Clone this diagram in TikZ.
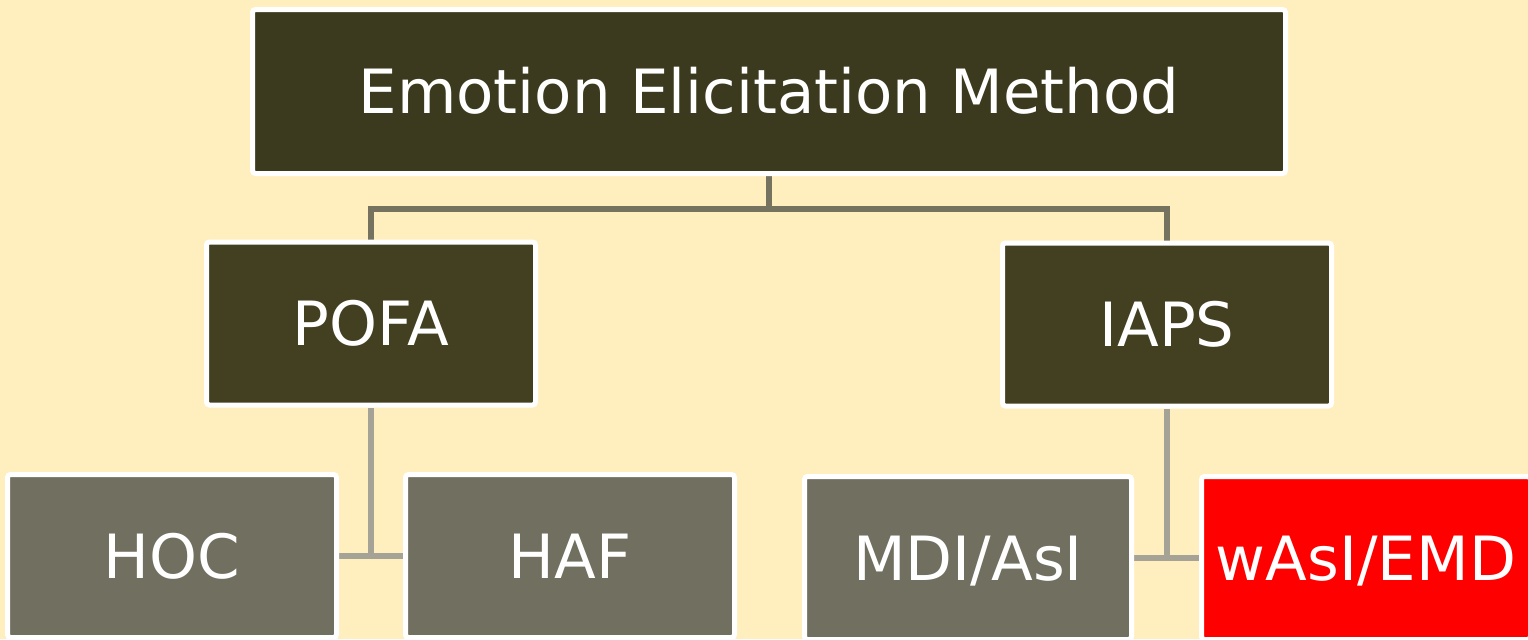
\documentclass[tikz,border=0pt]{standalone}
\usepackage{fontspec}
\setmainfont{DejaVu Sans}
\definecolor{cream}{HTML}{FFEEBE}
\definecolor{rootfill}{HTML}{3B3A1E}
\definecolor{midfill}{HTML}{424020}
\definecolor{leaffill}{HTML}{716F5F}
\definecolor{hotfill}{HTML}{FF0000}
\definecolor{upperline}{HTML}{75735F}
\definecolor{lowerline}{HTML}{A5A395}
\pgfdeclarelayer{bg}
\pgfdeclarelayer{lines}
\pgfsetlayers{bg,lines,main}
\tikzset{
  box/.style={draw=white, line width=2.5pt, rounded corners=1.5pt, inner sep=0pt,
    text=white, font=\fontsize{30.5pt}{36pt}\selectfont,
    text height=22.2pt, text depth=0pt, minimum width=164.5pt, minimum height=81.5pt},
  rootbox/.style={box, fill=rootfill, minimum width=516.5pt, minimum height=82pt},
  midbox/.style={box, fill=midfill},
  leafbox/.style={box, fill=leaffill},
  hotbox/.style={box, fill=hotfill},
  upperlink/.style={draw=upperline, line width=3pt},
  lowerlink/.style={draw=lowerline, line width=3pt},
}
\begin{document}
\begin{tikzpicture}[x=0.5pt, y=-0.5pt]
  \begin{pgfonlayer}{bg}
    \fill[cream] (0,0) rectangle (1528,639);
  \end{pgfonlayer}
  \useasboundingbox (0,0) rectangle (1528,639);

  % hierarchy boxes
  \node[rootbox] (root) at (769,91.5) {Emotion Elicitation Method};
  \node[midbox]  (pofa) at (371,323.5) {POFA};
  \node[midbox]  (iaps) at (1167,324.5) {IAPS};
  \node[leafbox] (hoc)  at (172,556) {HOC};
  \node[leafbox] (haf)  at (570,556) {HAF};
  \node[leafbox, minimum width=163.5pt] (mdi) at (968,558) {MDI/AsI};
  \node[hotbox]  (wasi) at (1366,558) {wAsI/EMD};

  % connectors, kept under the boxes
  \begin{pgfonlayer}{lines}
    \draw[upperlink] (root.south) -- ++(0,32.5) -| (pofa.north);
    \draw[upperlink] (root.south) -- ++(0,32.5) -| (iaps.north);
    \draw[lowerlink] (pofa.south) |- (hoc.east);
    \draw[lowerlink] (hoc.east) -- (haf.west);
    \draw[lowerlink] (iaps.south) |- (mdi.east);
    \draw[lowerlink] (mdi.east) -- (wasi.west);
  \end{pgfonlayer}
\end{tikzpicture}
\end{document}
